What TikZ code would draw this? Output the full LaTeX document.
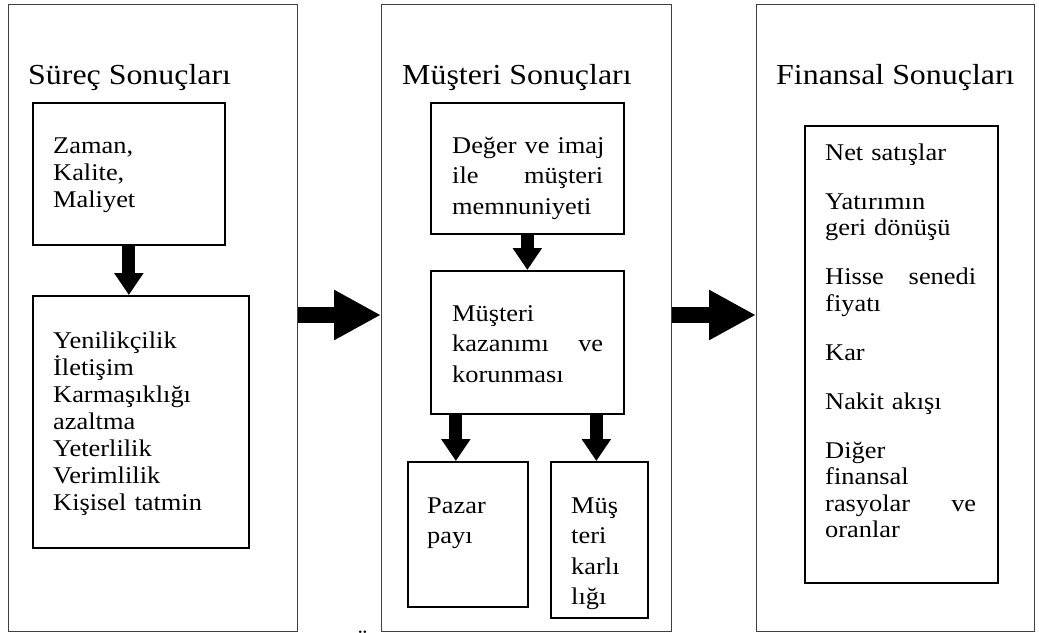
\documentclass[tikz,border=0pt]{standalone}
\usepackage{fontspec}
\setmainfont{Liberation Serif}[FakeStretch=1.1]
\usetikzlibrary{arrows.meta,calc}
% a line spread over a fixed width
\newcommand{\spreadline}[1]{\leavevmode\hbox to 151pt{#1}}
\begin{document}
\begin{tikzpicture}[x=1pt,y=-1pt,
  panel/.style={draw=black!75,line width=1pt,anchor=north west,inner sep=0pt},
  box/.style={draw=black,line width=1.7pt,anchor=north west,inner sep=0pt},
  heading/.style={anchor=base west,inner sep=0pt,font=\fontsize{29}{33}\selectfont},
  body/.style={anchor=base west,inner sep=0pt,align=left,text width=#1,font=\fontsize{24}{27}\selectfont},
  body/.default=200,
  loose/.style={font=\fontsize{24}{30.5}\selectfont},
  flow/.style={line width=13pt,-{Triangle[length=22pt,width=28pt]}},
  bigflow/.style={line width=16pt,-{Triangle[length=47pt,width=47pt]}}]
\useasboundingbox (0,0) rectangle (1039,632);

% three outer panels
\node[panel,minimum width=289,minimum height=627] (L) at (8,4) {};
\node[panel,minimum width=290,minimum height=627] (M) at (381,4) {};
\node[panel,minimum width=278,minimum height=627] (R) at (756,4) {};

% panel headings
\node[heading] (tL) at (28,84) {Süreç Sonuçları};
\node[heading] (tM) at (402,84) {Müşteri Sonuçları};
\node[heading] (tR) at (776,84) {Finansal Sonuçları};

% process results
\node[box,minimum width=192,minimum height=142] (A) at (32,102) {};
\node[box,minimum width=216,minimum height=252] (B) at (32,295) {};
\node[body=160] (tA) at (53,153) {Zaman,\\Kalite,\\Maliyet};
\node[body=185] (tB) at (53,348) {Yenilikçilik\\İletişim\\Karmaşıklığı\\azaltma\\Yeterlilik\\Verimlilik\\Kişisel tatmin};

% customer results
\node[box,minimum width=193,minimum height=131] (C) at (430,102) {};
\node[box,minimum width=193,minimum height=143] (D) at (430,270) {};
\node[box,minimum width=120,minimum height=145] (E) at (407,461) {};
\node[box,minimum width=97,minimum height=156] (F) at (550,461) {};
\node[body=200,loose] (tC) at (452,153) {Değer ve imaj\\\spreadline{ile\hfill müşteri}\\memnuniyeti};
\node[body=200,loose] (tD) at (452,321) {Müşteri\\\spreadline{kazanımı\hfill ve}\\korunması};
\node[body=90,loose] (tE) at (427,513) {Pazar\\payı};
\node[body=70,loose] (tF) at (571,513) {Müş\\teri\\karlı\\lığı};

% financial results
\node[box,minimum width=193,minimum height=457] (G) at (804,125) {};
\node[body=200,font=\fontsize{24}{26.5}\selectfont] (tG) at (825,160) {Net satışlar\\[22.5pt]
  Yatırımın\\geri dönüşü\\[22.5pt]
  \spreadline{Hisse\hfill senedi}\\fiyatı\\[22.5pt]
  Kar\\[22.5pt]
  Nakit akışı\\[22.5pt]
  Diğer\\finansal\\\spreadline{rasyolar\hfill ve}\\oranlar};

% stray glyph cut by the lower edge
\node[body=30] (frag) at (353,650) {Ü};

% arrows inside the panels
\draw[flow] (A.south) -- (A.south |- B.north);
\draw[flow] (C.south) -- (C.south |- D.north);
\draw[flow] ([xshift=-12pt]E.north |- D.south) -- ([xshift=-12pt]E.north);
\draw[flow] ([xshift=-3pt]F.north |- D.south) -- ([xshift=-3pt]F.north);

% arrows between the panels
\coordinate (row) at (0,315);
\draw[bigflow] (L.east |- row) -- (M.west |- row);
\draw[bigflow] (M.east |- row) -- (R.west |- row);
\end{tikzpicture}
\end{document}
